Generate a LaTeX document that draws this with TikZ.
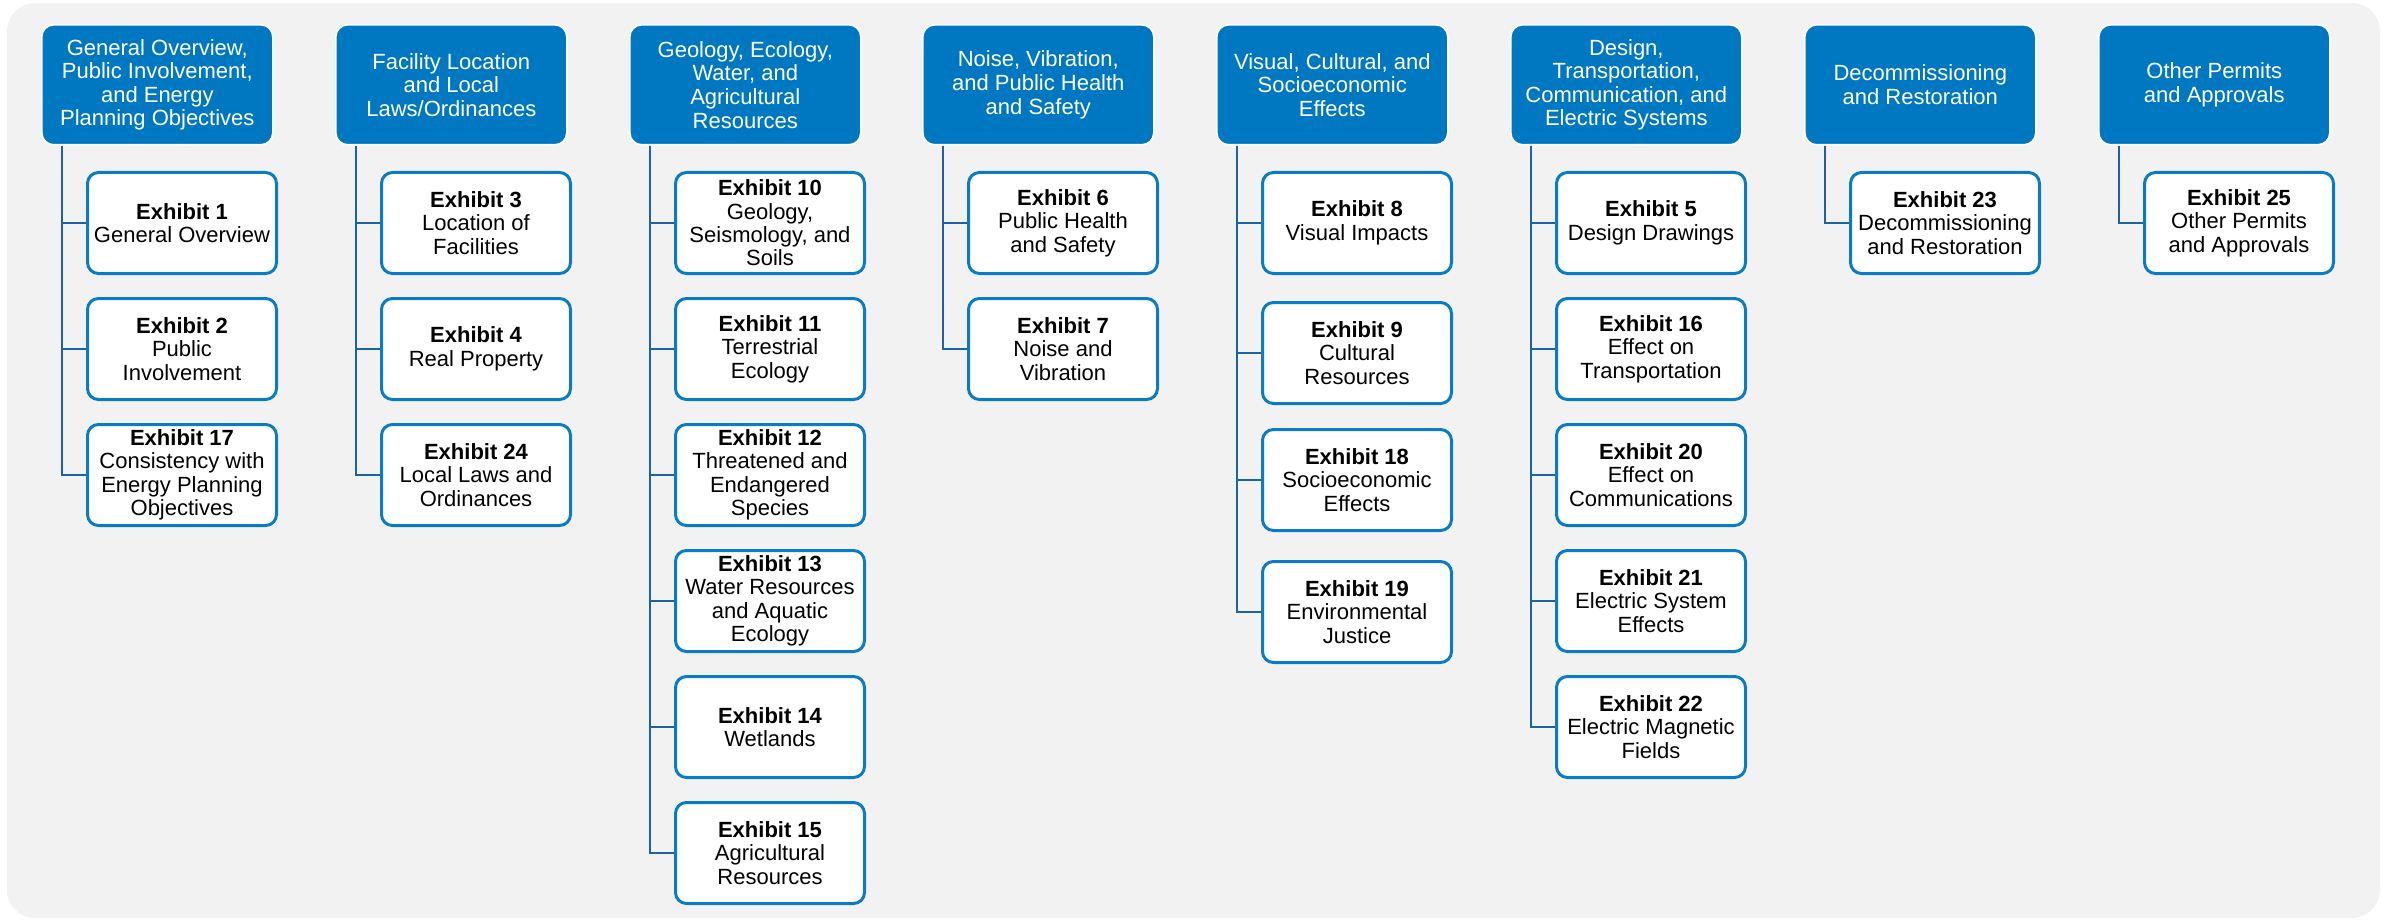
\documentclass[tikz,border=0pt]{standalone}
\usepackage{fontspec}
\setmainfont{Liberation Sans}
\definecolor{hdrblue}{HTML}{0078C1}
\definecolor{boxblue}{HTML}{0A7CC4}
\definecolor{trunkblue}{HTML}{1A64A4}
\definecolor{bggray}{HTML}{F2F2F2}
\tikzset{
  hdrbox/.style={anchor=north west, fill=hdrblue, draw=white, line width=0.8pt,
    rounded corners=6pt, minimum width=115.5pt, minimum height=60pt, inner sep=0pt,
    text=white, align=center, font=\fontsize{11}{11.8}\selectfont},
  exbox/.style={anchor=north west, fill=white, draw=boxblue, line width=1.5pt,
    rounded corners=5.5pt, minimum width=94.5pt, minimum height=50.5pt, inner sep=0pt,
    text=black, align=center, font=\fontsize{11}{11.7}\selectfont},
  trunk/.style={draw=trunkblue, line width=1.4pt}
}
\newcommand\hdr[3]{\node[hdrbox] (h#1) at (#2,24) {#3};
  \coordinate (t#1) at ([xshift=10.5pt]h#1.south west);}
\newcommand\exh[5]{\node[exbox] (#1) at (#2,#3) {\textbf{Exhibit #4}\\#5};}
\begin{document}
\begin{tikzpicture}[x=0.5pt,y=-0.5pt]
\useasboundingbox (0,0) rectangle (2390,920);
\fill[bggray, rounded corners=14pt] (7,3) rectangle (2380,918);

% headers
\hdr{1}{41}{General Overview,\\Public Involvement,\\and Energy\\Planning Objectives}
\hdr{2}{335}{Facility Location\\and Local\\Laws/Ordinances}
\hdr{3}{629}{Geology, Ecology,\\Water, and\\Agricultural\\Resources}
\hdr{4}{922}{Noise, Vibration,\\and Public Health\\and Safety}
\hdr{5}{1216}{Visual, Cultural, and\\Socioeconomic\\Effects}
\hdr{6}{1510}{Design,\\Transportation,\\Communication, and\\Electric Systems}
\hdr{7}{1804}{Decommissioning\\and Restoration}
\hdr{8}{2098}{Other Permits\\and Approvals}

% column 1
\exh{e1}{86}{171}{1}{General Overview}
\exh{e2}{86}{297}{2}{Public\\Involvement}
\exh{e17}{86}{423}{17}{Consistency with\\Energy Planning\\Objectives}
% column 2
\exh{e3}{380}{171}{3}{Location of\\Facilities}
\exh{e4}{380}{297}{4}{Real Property}
\exh{e24}{380}{423}{24}{Local Laws and\\Ordinances}
% column 3
\exh{e10}{674}{171}{10}{Geology,\\Seismology, and\\Soils}
\exh{e11}{674}{297}{11}{Terrestrial\\Ecology}
\exh{e12}{674}{423}{12}{Threatened and\\Endangered\\Species}
\exh{e13}{674}{549}{13}{Water Resources\\and Aquatic\\Ecology}
\exh{e14}{674}{675}{14}{Wetlands}
\exh{e15}{674}{801}{15}{Agricultural\\Resources}
% column 4
\exh{e6}{967}{171}{6}{Public Health\\and Safety}
\exh{e7}{967}{297}{7}{Noise and\\Vibration}
% column 5
\exh{e8}{1261}{171}{8}{Visual Impacts}
\exh{e9}{1261}{301}{9}{Cultural\\Resources}
\exh{e18}{1261}{428}{18}{Socioeconomic\\Effects}
\exh{e19}{1261}{560}{19}{Environmental\\Justice}
% column 6
\exh{e5}{1555}{171}{5}{Design Drawings}
\exh{e16}{1555}{297}{16}{Effect on\\Transportation}
\exh{e20}{1555}{423}{20}{Effect on\\Communications}
\exh{e21}{1555}{549}{21}{Electric System\\Effects}
\exh{e22}{1555}{675}{22}{Electric Magnetic\\Fields}
% column 7
\exh{e23}{1849}{171}{23}{Decommissioning\\and Restoration}
% column 8
\exh{e25}{2143}{171}{25}{Other Permits\\and Approvals}

% connectors
\foreach \t/\kids in {1/{e1,e2,e17}, 2/{e3,e4,e24}, 3/{e10,e11,e12,e13,e14,e15},
  4/{e6,e7}, 5/{e8,e9,e18,e19}, 6/{e5,e16,e20,e21,e22}, 7/{e23}, 8/{e25}}{
  \foreach \k in \kids {
    \draw[trunk] (t\t) |- (\k.west);
  }
}
\end{tikzpicture}
\end{document}
